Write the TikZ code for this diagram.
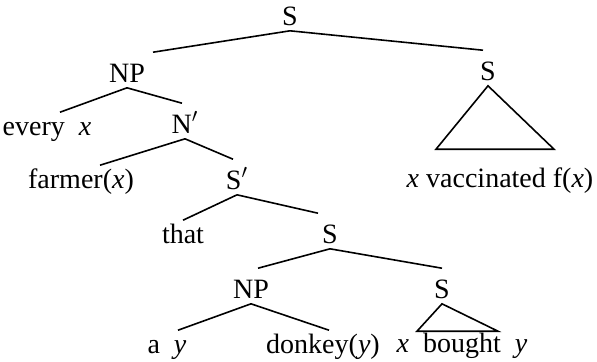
\documentclass[tikz,border=0pt]{standalone}
\usepackage{fontspec}
\setmainfont{Liberation Serif}
\newcommand{\var}[1]{\textit{#1}}
\begin{document}
\begin{tikzpicture}[x=0.5pt,y=-0.5pt,line width=0.8pt,
  font=\fontsize{14}{17}\selectfont,
  cat/.style={anchor=base, inner sep=0pt, text height=14.5pt, text depth=2.5pt},
  leaf/.style={anchor=base, inner sep=0pt, text height=11pt, text depth=2.5pt}]
\useasboundingbox (0,0) rectangle (597,361);

\node[cat] (s0) at (290,25) {S};
\node[cat] (np1) at (127,82) {NP};
\node[cat] (s1) at (488,80) {S};
\node[leaf] (ex) at (47,135) {every\enskip\var{x}};
\node[cat] (nb) at (185,133) {N$'$};
\node[leaf] (fx) at (81,188) {farmer(\var{x})};
\node[cat] (sb) at (237,189) {S$'$};
\node[leaf] (vac) at (500,187) {\var{x} vaccinated f(\var{x})};
\node[leaf] (that) at (183,243) {that};
\node[cat] (s2) at (330,243) {S};
\node[cat] (np2) at (251,298) {NP};
\node[cat] (s3) at (442,298) {S};
\node[leaf] (ay) at (167,353) {a\enskip\var{y}};
\node[leaf] (dk) at (323,353) {donkey(\var{y})};
\node[leaf] (xb) at (462,352) {\var{x}\enskip bought\enskip\var{y}};

\draw (s0.south) -- ([xshift=13pt]np1.north);
\draw (s0.south) -- ([xshift=-2.5pt]s1.north);

\draw (np1.south) -- ([xshift=6.5pt]ex.north);
\draw (np1.south) -- ([xshift=-1.5pt]nb.north);

\draw (nb.south) -- ([xshift=9.5pt]fx.north);
\draw (nb.south) -- ([xshift=-2pt]sb.north);

\draw (sb.south) -- (that.north);
\draw (sb.south) -- ([xshift=-6pt]s2.north);

\draw (s2.south) -- ([xshift=3.5pt]np2.north);
\draw (s2.south) -- (s3.north);

\draw (np2.south) -- ([xshift=5.5pt]ay.north);
\draw (np2.south) -- ([xshift=3pt]dk.north);

% subtrees left unanalysed
\draw (s1.south) -- ([shift={(-32pt,7.5pt)}]vac.north)
  -- ([shift={(27pt,7.5pt)}]vac.north) -- cycle;
\draw (s3.south) -- ([shift={(-22.5pt,-1pt)}]xb.north)
  -- ([shift={(18pt,-1pt)}]xb.north) -- cycle;
\end{tikzpicture}
\end{document}
